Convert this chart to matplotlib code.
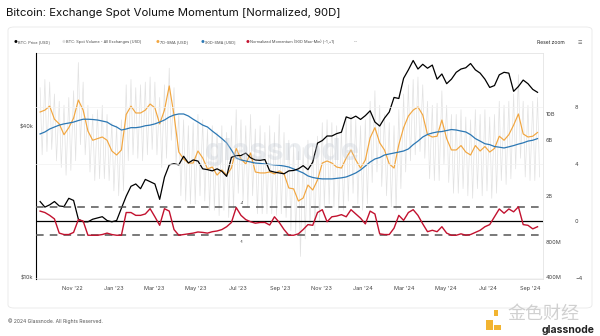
import numpy as np
import pandas as pd
import matplotlib
matplotlib.use('Agg')
import matplotlib.pyplot as plt
import matplotlib.dates as mdates
from matplotlib.patches import FancyBboxPatch, Rectangle

plt.rcParams['font.family'] = ['Inter', 'DejaVu Sans']

# weekly samples, Sep 2022 -> Sep 2024
weeks = pd.date_range('2022-09-15', periods=105, freq='7D')

# BTC price, thousand USD
btc_price = [
    20.0, 19.0, 19.4, 20.0, 19.2, 19.1, 20.6, 20.2, 17.0, 16.6,
    16.6, 17.0, 17.2, 17.4, 16.8, 16.6, 16.8, 18.8, 21.0, 23.0,
    23.5, 22.5, 24.5, 24.0, 23.5, 20.4, 25.0, 28.0, 28.3, 28.0,
    30.3, 28.5, 29.3, 29.0, 27.0, 26.8, 26.5, 27.0, 26.4, 25.2,
    30.0, 30.5, 30.5, 31.2, 29.9, 29.3, 29.2, 29.4, 26.5, 26.2,
    26.0, 25.8, 26.5, 26.6, 27.0, 27.8, 26.8, 28.7, 34.2, 35.0,
    36.5, 36.5, 37.3, 37.8, 43.5, 42.8, 43.8, 42.5, 44.0, 46.0,
    41.5, 40.0, 43.0, 45.5, 52.0, 51.5, 62.0, 67.0, 73.0, 67.5,
    70.5, 68.0, 70.0, 61.5, 64.5, 59.0, 61.5, 65.5, 67.5, 68.3,
    71.0, 67.0, 65.0, 61.5, 57.0, 58.0, 64.0, 65.5, 65.0, 55.0,
    57.5, 61.0, 59.0, 56.0, 54.5,
]

# spot volume, billion USD: daily highs / lows within each week
vol_high = [
    17, 20, 19, 15, 13, 12, 14, 16, 28, 19,
    12, 10, 11, 12, 10, 8.5, 8, 9, 18, 20,
    17, 18, 19, 21, 19, 14, 18, 25, 17, 10,
    9, 8, 8.5, 10, 9, 7.5, 8, 7, 8, 7,
    8, 11, 9, 8, 10, 7.5, 8, 7, 8, 7,
    10, 7, 6, 5.5, 4.8, 5.2, 6, 5.5, 6.5, 8.5,
    9, 8.5, 8, 7.5, 9.5, 10, 9, 8, 9, 13,
    16, 12, 10, 8.5, 8, 11, 15, 18, 20, 21,
    18, 13, 12, 12.5, 16, 12, 10, 10, 11, 9.5,
    9, 11, 10, 11, 9.5, 10, 13, 12, 13, 15,
    22, 13, 12, 13, 14,
]
vol_low = [
    4.5, 4.8, 5.0, 4.0, 3.5, 3.0, 3.3, 4.0, 5.5, 4.5,
    3.2, 2.7, 2.8, 2.8, 2.7, 2.2, 2.0, 2.2, 4.0, 4.5,
    4.2, 4.0, 4.5, 5.0, 4.5, 3.5, 4.2, 6.0, 3.8, 2.0,
    1.8, 1.7, 1.7, 2.0, 1.8, 1.5, 1.5, 1.35, 1.5, 1.3,
    1.5, 2.1, 1.8, 1.6, 2.0, 1.4, 1.4, 1.4, 1.4, 1.35,
    1.4, 1.3, 1.0, 0.95, 0.6, 0.85, 1.1, 1.0, 1.2, 1.6,
    1.7, 1.6, 1.5, 1.5, 1.8, 2.1, 1.7, 1.5, 1.7, 2.6,
    3.2, 2.4, 2.0, 1.6, 1.5, 2.3, 3.2, 4.0, 4.5, 4.8,
    4.2, 2.8, 2.7, 2.7, 3.7, 2.6, 2.1, 2.1, 2.3, 2.0,
    1.9, 2.3, 2.0, 2.2, 1.9, 2.1, 2.7, 2.5, 2.8, 3.4,
    4.2, 2.9, 2.7, 2.7, 2.9,
]

# 7D-SMA, billion USD
sma_7d = [
    10.5, 10.9, 11.8, 9.1, 8.3, 6.7, 7.7, 9.3, 13.3, 10.9,
    7.2, 6.0, 6.2, 6.4, 6.0, 4.85, 4.48, 4.95, 10.0, 11.8,
    10.3, 10.3, 10.9, 12.3, 11.4, 8.3, 10.9, 17.6, 9.9, 4.75,
    4.14, 3.82, 3.82, 4.85, 4.22, 3.40, 3.53, 3.01, 3.33, 3.01,
    3.46, 5.1, 4.14, 3.75, 4.66, 3.2, 3.14, 3.14, 3.2, 3.08,
    3.27, 3.08, 2.33, 2.29, 1.80, 1.91, 2.47, 2.24, 2.73, 3.82,
    3.98, 3.82, 3.53, 3.46, 4.22, 4.95, 4.06, 3.46, 4.06, 6.3,
    7.7, 5.7, 4.95, 3.75, 3.46, 5.5, 7.7, 9.7, 10.9, 11.6,
    9.9, 6.7, 6.4, 6.5, 8.96, 6.2, 4.95, 4.95, 5.4, 4.75,
    4.48, 5.4, 4.85, 5.3, 4.75, 5.1, 6.5, 6.0, 6.7, 8.1,
    10.1, 6.8, 6.4, 6.5, 7.0,
]

# 90D-SMA, billion USD
sma_90d = [
    6.8, 7.07, 7.5, 7.8, 8.1, 8.3, 8.44, 8.6, 8.87, 9.1,
    9.1, 9.05, 8.96, 8.78, 8.6, 8.1, 7.8, 7.35, 7.5, 7.7,
    7.7, 7.8, 8.0, 8.1, 8.3, 8.6, 8.96, 9.51, 9.9, 10.1,
    10.1, 9.7, 9.1, 8.6, 8.1, 7.8, 7.2, 6.7, 6.2, 5.7,
    4.95, 4.22, 4.06, 3.98, 3.9, 3.82, 3.79, 3.75, 3.72, 3.68,
    3.65, 3.6, 3.53, 3.40, 3.27, 3.14, 2.96, 2.87, 2.82, 2.79,
    2.79, 2.79, 2.82, 2.85, 2.9, 3.01, 3.14, 3.33, 3.6, 3.9,
    4.14, 4.26, 4.48, 4.57, 4.66, 4.75, 4.85, 5.05, 5.5, 5.9,
    6.4, 6.73, 6.93, 7.07, 7.13, 7.28, 7.42, 7.35, 7.2, 7.07,
    6.7, 6.2, 5.9, 5.6, 5.5, 5.3, 5.23, 5.15, 5.27, 5.4,
    5.56, 5.7, 5.9, 6.0, 6.2,
]

# normalized momentum (90D max-min), clipped to [-1, +1]
momentum = [
    0.7, 0.6, 0.4, 0.15, -0.85, -0.95, -0.95, -0.8, 0.1, 0.0,
    -1, -1, -1, -0.95, -0.85, -0.95, -1, -1, 0.6, 0.6,
    0.4, 0.4, 0.5, 0.87, 0.3, -0.3, 0.87, 0.7, -0.6, -1,
    -0.95, -0.9, -0.85, -0.77, -0.8, -0.85, -0.75, -0.7, -0.6, -0.4,
    -0.1, 0.95, 0.4, 0.1, -0.05, -0.15, -0.1, -0.1, -0.28, 0.3,
    -0.1, -0.6, -1, -1, -0.9, -0.6, -0.25, -0.3, 0.6, 0.8,
    -0.05, 0.3, 0.35, 0.45, 0.3, 0.8, 0.5, 0.2, -0.2, 0.7,
    0.5, -0.9, -0.95, -0.95, -0.5, 0.4, 0.05, 0.6, 0.8, 0.4,
    -0.2, -0.75, -0.65, -0.75, -0.4, -0.85, -1, -1, -0.9, -1,
    -0.95, -0.8, -0.65, -0.4, -0.25, 0.3, 0.85, 0.55, 0.85, 0.65,
    1.0, -0.25, -0.3, -0.55, -0.4,
]

price_ticks = [10000, 40000]
price_labels = ['$10k', '$40k']
vol_ticks = [4e8, 8e8, 2e9, 6e9, 1e10]
vol_labels = ['400M', '800M', '2B', '6B', '10B']
mom_ticks = [-4, 0, 4, 8]

# daily volume: alternate in-week high and low
vol_dates = np.empty(2 * len(weeks), dtype='datetime64[ns]')
vol_dates[0::2] = weeks.values
vol_dates[1::2] = (weeks + pd.Timedelta(days=3)).values
vol_daily = np.empty(2 * len(weeks))
vol_daily[0::2] = np.array(vol_high) * 1e9
vol_daily[1::2] = np.array(vol_low) * 1e9

fig = plt.figure(figsize=(6, 3.36), dpi=100)

# card frame
fig.patches.append(FancyBboxPatch((8 / 600, 1 - 308 / 336), 584 / 600, 281 / 336,
                                  boxstyle='round,pad=0,rounding_size=0.01',
                                  transform=fig.transFigure, fc='white',
                                  ec='#e8e8e8', lw=0.6, zorder=-10))

ax_vol = fig.add_axes([36 / 600, 1 - 279 / 336, 507 / 600, 226 / 336])
ax_px = ax_vol.twinx()
ax_mom = ax_vol.twinx()

ax_vol.plot(vol_dates, vol_daily, color='#e2e2e2', lw=0.5)
ax_vol.plot(weeks, np.array(sma_7d) * 1e9, color='#f2a63f', lw=0.85)
ax_vol.plot(weeks, np.array(sma_90d) * 1e9, color='#2c78b4', lw=0.9)
ax_vol.set_yscale('log')
ax_vol.set_ylim(3.84e8, 3.38e10)
ax_vol.yaxis.tick_right()
ax_vol.set_yticks(vol_ticks)
ax_vol.set_yticklabels(vol_labels)
ax_vol.yaxis.set_minor_locator(plt.NullLocator())

ax_px.plot(weeks, np.array(btc_price) * 1000, color='black', lw=0.9)
ax_px.set_yscale('log')
ax_px.set_ylim(9820, 78200)
ax_px.yaxis.tick_left()
ax_px.set_yticks(price_ticks)
ax_px.set_yticklabels(price_labels)
ax_px.yaxis.set_minor_locator(plt.NullLocator())

for t in [8, 4, -4]:
    ax_mom.axhline(t, color='#f2f2f2', lw=0.5, zorder=0)
ax_mom.axhline(1, color='#555555', lw=1.1, ls=(0, (5, 4)))
ax_mom.axhline(-1, color='#555555', lw=1.1, ls=(0, (5, 4)))
ax_mom.axhline(0, color='black', lw=0.9)
ax_mom.plot(weeks, momentum, color='#c2122f', lw=1.0)
ax_mom.set_ylim(-4.08, 11.83)
ax_mom.set_yticks(mom_ticks)
ax_mom.spines['right'].set_position(('outward', 21))
ax_mom.text(pd.Timestamp('2023-07-04'), 1.2, '+1', fontsize=3, color='#333333')
ax_mom.text(pd.Timestamp('2023-07-04'), -1.55, '-1', fontsize=3, color='#333333')

ax_vol.set_xlim(pd.Timestamp('2022-09-09'), pd.Timestamp('2024-09-20'))
ax_vol.xaxis.set_major_locator(mdates.MonthLocator(bymonth=[1, 3, 5, 7, 9, 11]))
ax_vol.xaxis.set_major_formatter(mdates.DateFormatter("%b '%y"))

for a in (ax_vol, ax_px, ax_mom):
    for s in a.spines.values():
        s.set_visible(False)
    a.tick_params(length=0, labelsize=4, labelcolor='#444444', pad=2)
ax_vol.tick_params(axis='x', pad=5)
ax_px.spines['left'].set_visible(True)
ax_px.spines['left'].set_color('black')
ax_px.spines['left'].set_linewidth(0.8)
for s in ('top', 'right', 'bottom'):
    ax_vol.spines[s].set_visible(True)
    ax_vol.spines[s].set_color('#e4e4e4')
    ax_vol.spines[s].set_linewidth(0.6)

# title, legend row, footer
fig.text(6 / 600, 1 - 13 / 336, 'Bitcoin: Exchange Spot Volume Momentum [Normalized, 90D]',
         fontsize=8.2, va='center', color='#111111')
legend_items = [
    (14, 'black', 'BTC: Price [USD]'),
    (62, '#dddddd', 'BTC: Spot Volume - All Exchanges [USD]'),
    (156, '#f2a63f', '7D-SMA [USD]'),
    (201, '#2c78b4', '90D-SMA [USD]'),
    (246, '#c2122f', 'Normalized Momentum (90D Max-Min) [-1,+1]'),
]
for x, c, lab in legend_items:
    fig.text(x / 600, 1 - 42 / 336, '\u25cf', fontsize=3, color=c, va='center')
    fig.text((x + 4) / 600, 1 - 42 / 336, lab, fontsize=2.8, color='#444444', va='center')
fig.text(354 / 600, 1 - 42 / 336, '\u00b7\u00b7\u00b7', fontsize=3.5, color='#444444', va='center')
fig.text(537 / 600, 1 - 43 / 336, 'Reset zoom', fontsize=3.6, color='#222222', va='center')
fig.text(578 / 600, 1 - 43 / 336, '\u2630', fontsize=3.6, color='#666666', va='center')
fig.text(8 / 600, 1 - 321 / 336, '\u00a9 2024 Glassnode. All Rights Reserved.',
         fontsize=3.6, color='#555555', va='center')

# watermarks
fig.text(205 / 600, 1 - 152 / 336, 'glassnode', fontsize=22, color='#c5ccd6',
         alpha=0.35, va='center', fontweight='bold')
fig.patches.append(Rectangle((486 / 600, 1 - 330 / 336), 7 / 600, 10 / 336,
                             transform=fig.transFigure, fc='#f2b431', ec='none'))
fig.patches.append(Rectangle((494 / 600, 1 - 330 / 336), 7 / 600, 5 / 336,
                             transform=fig.transFigure, fc='#f2b431', ec='none'))
fig.patches.append(Rectangle((494 / 600, 1 - 316 / 336), 4 / 600, 6 / 336,
                             transform=fig.transFigure, fc='#f2b431', ec='none'))
fig.text(507 / 600, 1 - 314 / 336, '金色财经', fontsize=13, color='#d0d0d0',
         va='center', family=['Noto Sans CJK SC', 'DejaVu Sans'])
fig.text(595 / 600, 1 - 330 / 336, 'glassnode', fontsize=7.5, color='#222222',
         va='center', ha='right', fontweight='bold')

fig.savefig('out.png', dpi=100)
